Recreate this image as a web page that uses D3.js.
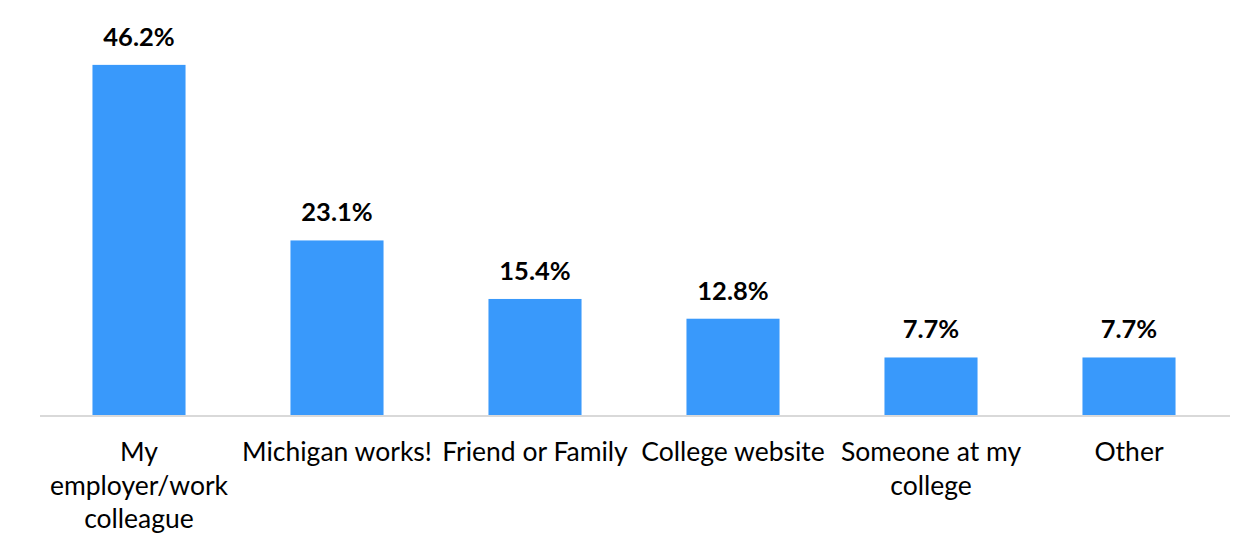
<!DOCTYPE html>
<html>
<head>
<meta charset="utf-8">
<script src="https://cdn.jsdelivr.net/npm/d3@7/dist/d3.min.js"></script>
<style>
  html, body { margin: 0; padding: 0; background: #ffffff; }
  svg { display: block; font-family: Lato, "Open Sans", sans-serif; }
</style>
</head>
<body>
<svg id="chart" width="1254" height="552"></svg>
<script>
// Survey: how respondents heard about the program
const categories = ["My employer/work colleague", "Michigan works!", "Friend or Family", "College website", "Someone at my college", "Other"];
const percents = [46.2, 23.1, 15.4, 12.8, 7.7, 7.7];
const valueLabels = ["46.2%", "23.1%", "15.4%", "12.8%", "7.7%", "7.7%"];

const svg = d3.select("#chart");
const baseY = 416;

const x = d3.scaleBand()
  .domain(categories)
  .range([40, 1228])
  .paddingInner(0.53)
  .paddingOuter(0.265);

const y = d3.scaleLinear()
  .domain([0, 50])
  .range([baseY, baseY - 380]);

// bars
svg.append("g").selectAll("rect")
  .data(categories)
  .join("rect")
  .attr("x", d => x(d))
  .attr("y", (d, i) => y(percents[i]))
  .attr("width", x.bandwidth())
  .attr("height", (d, i) => y(0) - y(percents[i]))
  .attr("fill", "#3999fb");

// baseline axis
const axis = svg.append("g")
  .attr("transform", `translate(0,${baseY})`)
  .call(d3.axisBottom(x).tickSize(0).tickFormat(""));
axis.select(".domain").attr("stroke", "#d9d9d9").attr("stroke-width", 2)
  .attr("d", `M${x.range()[0]},0H${x.range()[1] + 2}`);

// value labels
svg.append("g").selectAll("text")
  .data(categories)
  .join("text")
  .attr("x", d => x(d) + x.bandwidth() / 2)
  .attr("y", (d, i) => y(percents[i]) - 19)
  .attr("text-anchor", "middle")
  .attr("font-weight", "bold")
  .attr("font-size", 25.5)
  .attr("fill", "#000")
  .text((d, i) => valueLabels[i]);

// category labels, word-wrapped to the band step
const maxW = x.step() - 2;
const catG = svg.append("g");
categories.forEach(name => {
  const cx = x(name) + x.bandwidth() / 2;
  const t = catG.append("text")
    .attr("x", cx)
    .attr("y", 461)
    .attr("text-anchor", "middle")
    .attr("font-size", 26.5)
    .attr("fill", "#000");
  const words = name.split(" ");
  let line = [];
  let tspan = t.append("tspan").attr("x", cx).attr("dy", 0);
  words.forEach(w => {
    line.push(w);
    tspan.text(line.join(" "));
    if (tspan.node().getComputedTextLength() > maxW && line.length > 1) {
      line.pop();
      tspan.text(line.join(" "));
      line = [w];
      tspan = t.append("tspan").attr("x", cx).attr("dy", 33.5).text(w);
    }
  });
});
</script>
</body>
</html>
